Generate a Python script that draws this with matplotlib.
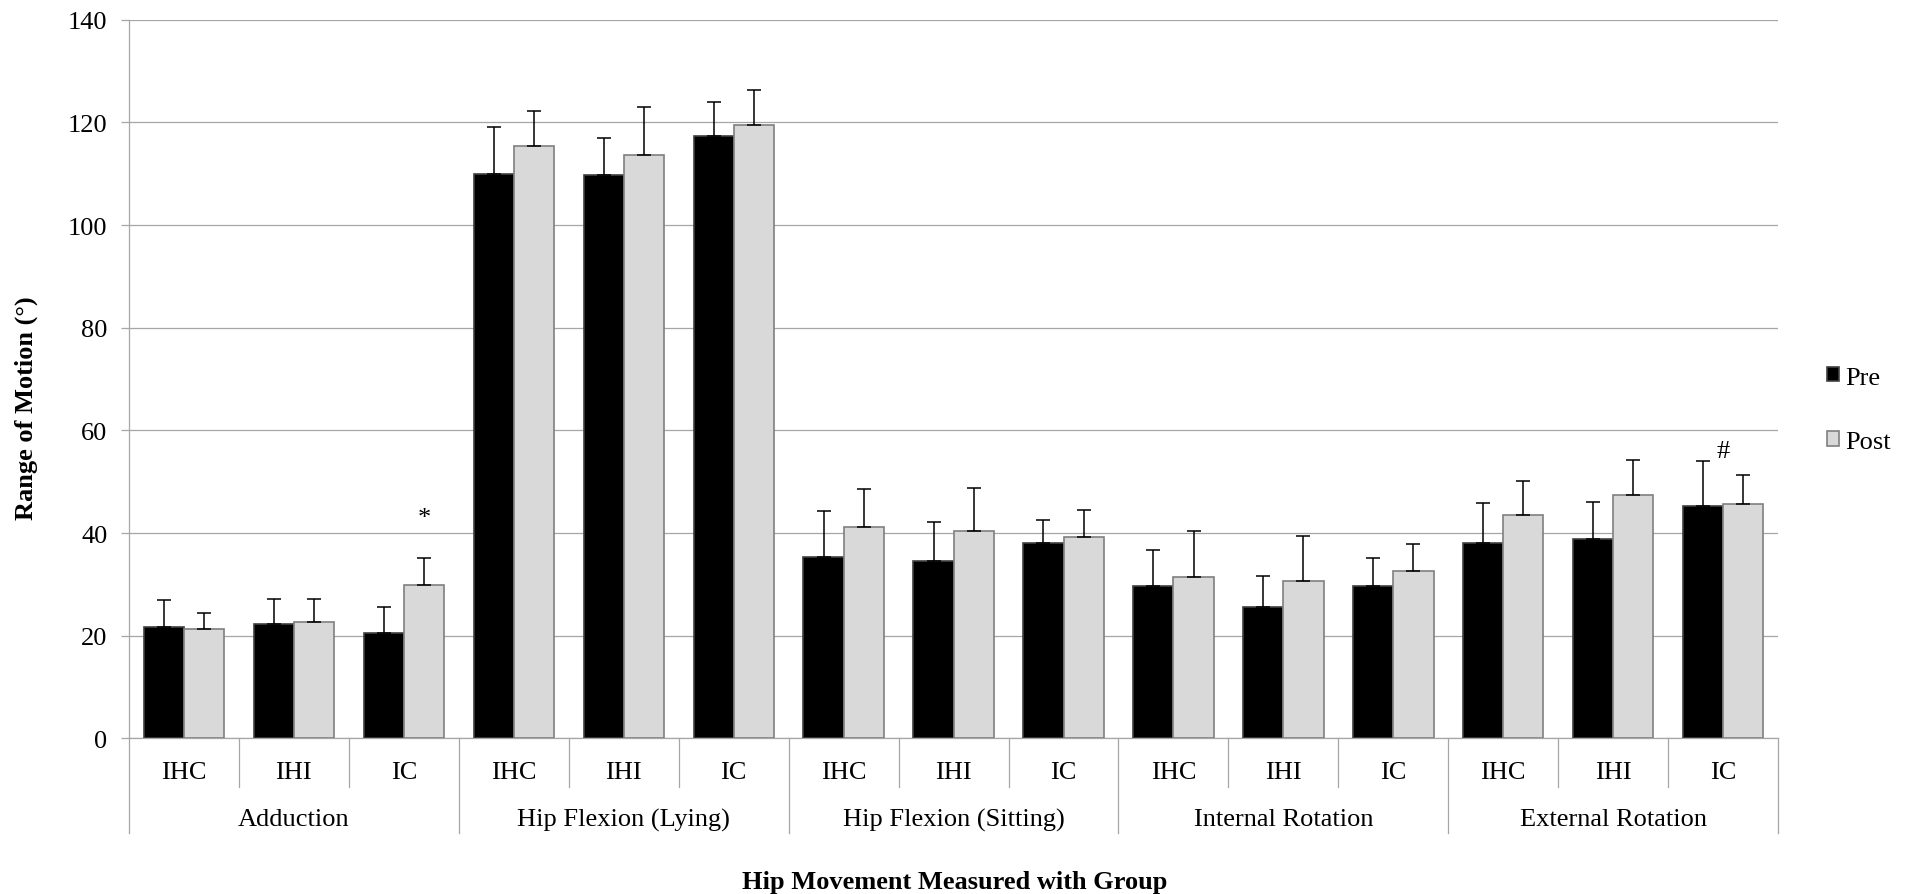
import numpy as np
import matplotlib
matplotlib.use('Agg')
import matplotlib.pyplot as plt

plt.rcParams['font.family'] = ['Liberation Serif', 'DejaVu Serif']

# 数据
movements = ['Adduction', 'Hip Flexion (Lying)', 'Hip Flexion (Sitting)', 'Internal Rotation', 'External Rotation']
groups = ['IHC', 'IHI', 'IC']

pre = [21.7, 22.2, 20.5,
       110.0, 109.7, 117.3,
       35.3, 34.6, 38.0,
       29.6, 25.6, 29.6,
       38.1, 38.8, 45.3]
pre_sd = [5.2, 4.9, 5.0,
          9.1, 7.2, 6.6,
          8.9, 7.5, 4.5,
          7.1, 6.1, 5.6,
          7.7, 7.3, 8.7]
post = [21.3, 22.6, 29.9,
        115.4, 113.6, 119.5,
        41.2, 40.4, 39.3,
        31.5, 30.7, 32.6,
        43.6, 47.5, 45.7]
post_sd = [3.2, 4.5, 5.3,
           6.9, 9.5, 6.8,
           7.4, 8.4, 5.2,
           8.9, 8.8, 5.2,
           6.5, 6.8, 5.6]

# 显著性标记: (柱序号, 位置偏移, y, 符号)
marks = [(2, 0.1825, 43.0, '*'), (14, 0.0, 56.0, '#')]


def draw_bar_chart():
    fig = plt.figure(figsize=(19.1, 8.95), dpi=100)
    ax = fig.add_axes([0.0675, 0.174, 0.8635, 0.8027])

    n = len(pre)
    x = np.arange(n)
    width = 0.365
    grid_c = '#a6a6a6'
    fs = 19

    ax.bar(x - width / 2, pre, width, color='black', edgecolor='#404040', linewidth=1.2,
           label='Pre', zorder=3)
    ax.bar(x + width / 2, post, width, color='#d9d9d9', edgecolor='#7f7f7f', linewidth=1.2,
           label='Post', zorder=3)
    # 只画上半误差线
    ax.errorbar(x - width / 2, pre, yerr=[np.zeros(n), pre_sd], fmt='none', ecolor='black',
                elinewidth=1.1, capsize=4.7, capthick=1.1, zorder=4)
    ax.errorbar(x + width / 2, post, yerr=[np.zeros(n), post_sd], fmt='none', ecolor='black',
                elinewidth=1.1, capsize=4.7, capthick=1.1, zorder=4)

    for i, dx, y, s in marks:
        ax.text(i + dx, y, s, ha='center', va='center', fontsize=fs)

    ax.set_xlim(-0.5, n - 0.5)
    ax.set_ylim(0, 140)
    ax.set_yticks(np.arange(0, 141, 20))
    ax.yaxis.grid(True, color=grid_c, linewidth=0.9)
    ax.set_axisbelow(True)
    for s in ['top', 'right']:
        ax.spines[s].set_visible(False)
    ax.spines['left'].set_color(grid_c)
    ax.spines['bottom'].set_color(grid_c)
    ax.spines['left'].set_linewidth(0.9)
    ax.spines['bottom'].set_linewidth(0.9)
    ax.tick_params(axis='y', length=5.5, color=grid_c, width=0.9, pad=10, labelsize=fs)
    ax.set_xticks([])

    # 分类标签和分隔线
    trans = ax.get_xaxis_transform()
    for k in range(n + 1):
        low = -0.132 if k % 3 == 0 else -0.068
        ax.plot([k - 0.5, k - 0.5], [0, low], color=grid_c, linewidth=0.9,
                transform=trans, clip_on=False)
    for i in range(n):
        ax.text(i, -0.047, groups[i % 3], ha='center', va='center', fontsize=fs, transform=trans)
    for j, m in enumerate(movements):
        ax.text(3 * j + 1, -0.113, m, ha='center', va='center', fontsize=fs, transform=trans)

    ax.set_ylabel('Range of Motion (°)', fontsize=fs, fontweight='bold')
    ax.yaxis.set_label_coords(-0.0553, 0.461)
    fig.text(0.5, 0.014, 'Hip Movement Measured with Group', ha='center', va='center',
             fontsize=fs, fontweight='bold')

    fig.legend(loc='center left', bbox_to_anchor=(0.9565, 0.541), frameon=False, fontsize=fs,
               handlelength=0.45, handleheight=0.45, handletextpad=0.25, labelspacing=1.6,
               borderpad=0, borderaxespad=0)

    plt.savefig('out.png', dpi=100)


def main():
    draw_bar_chart()


if __name__ == '__main__':
    main()
